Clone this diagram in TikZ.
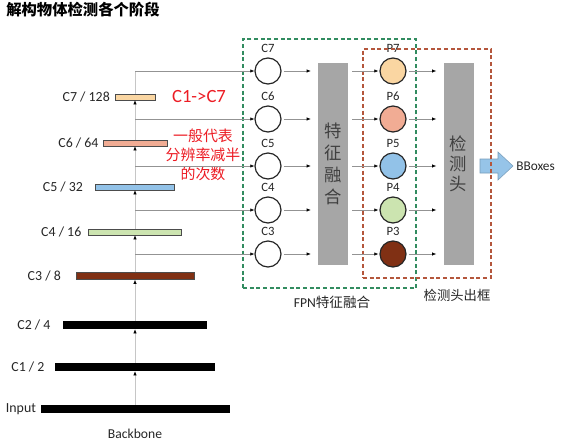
\documentclass[tikz,border=0pt]{standalone}
\usepackage{fontspec}
\setmainfont{Carlito}
\newfontfamily\cjk{Noto Sans CJK SC}
\usetikzlibrary{positioning,fit,calc,arrows.meta}
\definecolor{barC7}{RGB}{250,214,162}
\definecolor{barC6}{RGB}{241,172,148}
\definecolor{barC5}{RGB}{146,194,232}
\definecolor{barC4}{RGB}{204,228,176}
\definecolor{barC3}{RGB}{128,48,20}
\definecolor{stagegray}{RGB}{166,166,166}
\definecolor{fpngreen}{RGB}{50,140,96}
\definecolor{headred}{RGB}{180,86,60}
\definecolor{noteRed}{RGB}{236,28,36}
\definecolor{outblue}{RGB}{150,196,232}
\tikzset{
	bar/.style={draw=black!70, line width=0.4pt, minimum height=4.5pt, inner sep=0pt},
	blackbar/.style={fill=black, minimum height=6pt, inner sep=0pt},
	barlabel/.style={font=\fontsize{10.4}{12}\selectfont, text=black!85, inner sep=0pt},
	feat/.style={circle, draw=black!85, line width=0.9pt, minimum size=19.5pt, inner sep=0pt},
	lab/.style={font=\fontsize{9.5}{11}\selectfont, text=black!85, inner sep=1pt},
	flow/.style={draw=gray!85, line width=0.4pt, -{Latex[black,length=3pt,width=2.4pt]}},
	spine/.style={draw=gray!45, line width=0.6pt},
	stage/.style={fill=stagegray, minimum width=22.5pt, minimum height=151.5pt, inner sep=0pt, align=center, text=black!75},
	dashbox/.style={line width=1.1pt, dash pattern=on 3pt off 2pt, inner sep=0pt},
	note/.style={text=noteRed, inner sep=0pt},
	bigarrow/.style={draw=outblue!80!black, line width=0.4pt, fill=outblue}
}
\begin{document}
\begin{tikzpicture}[x=0.75pt, y=-0.75pt]
		\useasboundingbox (0,0) rectangle (573,443);
		\node[anchor=west, inner sep=0pt, font=\cjk\bfseries\fontsize{11.5}{13}\selectfont] (title) at (6,10) {解构物体检测各个阶段};
		% backbone
		\node[blackbar, minimum width=141.75pt] (bin) at (135,409) {};
		\node[blackbar, minimum width=120pt] (b1) at (135,367) {};
		\node[blackbar, minimum width=108pt] (b2) at (135,325) {};
		\node[bar, fill=barC3, minimum height=5.25pt, minimum width=88.5pt] (b3) at (135,276) {};
		\node[bar, fill=barC4, minimum width=69.75pt] (b4) at (135,232) {};
		\node[bar, fill=barC5, minimum width=59.25pt] (b5) at (135,187) {};
		\node[bar, fill=barC6, minimum width=48pt] (b6) at (135,143) {};
		\node[bar, fill=barC7, minimum width=30pt] (b7) at (135,97) {};
		\node[barlabel, left=3pt of bin] (lin) {Input};
		\node[barlabel, left=7.5pt of b1] (l1) {C1 / 2};
		\node[barlabel, left=9pt of b2] (l2) {C2 / 4};
		\node[barlabel, left=11pt of b3] (l3) {C3 / 8};
		\node[barlabel, left=5pt of b4] (l4) {C4 / 16};
		\node[barlabel, left=9pt of b5] (l5) {C5 / 32};
		\node[barlabel, left=3pt of b6] (l6) {C6 / 64};
		\node[barlabel, left=3.5pt of b7] (l7) {C7 / 128};
		\node[font=\fontsize{10.2}{12}\selectfont, text=black!85] (backbone) at (135,434) {Backbone};
		% FPN inputs
		\node[feat] (c7) at (268,71) {};
		\node[feat] (c6) at (268,119) {};
		\node[feat] (c5) at (268,166) {};
		\node[feat] (c4) at (268,210) {};
		\node[feat] (c3) at (268,254) {};
		\node[lab, above=2.75pt of c7] (lc7) {C7};
		\node[lab, above=2.75pt of c6] (lc6) {C6};
		\node[lab, above=2.75pt of c5] (lc5) {C5};
		\node[lab, above=2.75pt of c4] (lc4) {C4};
		\node[lab, above=2.75pt of c3] (lc3) {C3};
		\node[stage, font=\cjk\fontsize{13}{16.5}\selectfont] (fuse) at (333,164) {特\\征\\融\\合};
		% pyramid outputs
		\node[feat, fill=barC7] (p7) at (393,71) {};
		\node[feat, fill=barC6] (p6) at (393,119) {};
		\node[feat, fill=barC5] (p5) at (393,166) {};
		\node[feat, fill=barC4] (p4) at (393,210) {};
		\node[feat, fill=barC3] (p3) at (393,254) {};
		\node[lab, above=2.75pt of p7] (lp7) {P7};
		\node[lab, above=2.75pt of p6] (lp6) {P6};
		\node[lab, above=2.75pt of p5] (lp5) {P5};
		\node[lab, above=2.75pt of p4] (lp4) {P4};
		\node[lab, above=2.75pt of p3] (lp3) {P3};
		\node[stage, font=\cjk\fontsize{13}{15}\selectfont] (head) at (458.5,164) {检\\测\\头};
		\node[anchor=west, inner sep=0pt, font=\fontsize{10}{12}\selectfont, text=black!85] (bboxes) at (516,166) {BBoxes};
		\coordinate (outbase) at (480,166);
		\draw[bigarrow] ($(outbase)+(0,-7)$) -- ++(18,0) -- ++(0,-7) -- ($(bboxes.west)+(-3,0)$)
			-- ($(outbase)+(18,14)$) -- ++(0,-7) -- ($(outbase)+(0,7)$) -- cycle;
		% frames
		\node[dashbox, draw=fpngreen, fit={(243,39) (416,288)}] (fpn) {};
		\node[dashbox, draw=headred, fit={(363,49) (491,278)}] (detect) {};
		\node[font=\fontsize{10.2}{12}\selectfont, text=black!85] (lfpn) at (332,302) {FPN{\cjk 特征融合}};
		\node[font=\cjk\fontsize{10}{12}\selectfont, text=black!85] (ldetect) at (457,295) {检测头出框};
		% notes
		\node[note, font=\fontsize{14}{16}\selectfont] (order) at (199,97) {C1->C7};
		\node[note, align=center, font=\cjk\fontsize{11.2}{14.3}\selectfont] (meaning) at (203,155) {一般代表\\分辨率减半\\的次数};
		% connectors
		\draw[spine] (b7.north) -- (b7.center |- c7);
		\draw[flow, draw=gray!45] (bin.north) -- (b1.south);
		\draw[flow, draw=gray!45] (b1.north) -- (b2.south);
		\draw[flow, draw=gray!45] (b2.north) -- (b3.south);
		\draw[flow, draw=gray!45] (b3.north) -- (b4.south);
		\draw[flow, draw=gray!45] (b4.north) -- (b5.south);
		\draw[flow, draw=gray!45] (b5.north) -- (b6.south);
		\draw[flow, draw=gray!45] (b6.north) -- (b7.south);
		\draw[flow] (b7.center |- c7) -- (c7.west);
		\draw[flow] (b7.center |- c6) -- (c6.west);
		\draw[flow] (b7.center |- c5) -- (c5.west);
		\draw[flow] (b7.center |- c4) -- (c4.west);
		\draw[flow] (b7.center |- c3) -- (c3.west);
		\draw[flow, shorten <=1.5pt, shorten >=5.25pt] (c7.east) -- (fuse.west |- c7);
		\draw[flow, shorten <=1.5pt, shorten >=5.25pt] (c6.east) -- (fuse.west |- c6);
		\draw[flow, shorten <=1.5pt, shorten >=5.25pt] (c5.east) -- (fuse.west |- c5);
		\draw[flow, shorten <=1.5pt, shorten >=5.25pt] (c4.east) -- (fuse.west |- c4);
		\draw[flow, shorten <=1.5pt, shorten >=5.25pt] (c3.east) -- (fuse.west |- c3);
		\draw[flow, shorten <=3pt, shorten >=0.75pt] (fuse.east |- p7) -- (p7.west);
		\draw[flow, shorten <=3pt, shorten >=0.75pt] (fuse.east |- p6) -- (p6.west);
		\draw[flow, shorten <=3pt, shorten >=0.75pt] (fuse.east |- p5) -- (p5.west);
		\draw[flow, shorten <=3pt, shorten >=0.75pt] (fuse.east |- p4) -- (p4.west);
		\draw[flow, shorten <=3pt, shorten >=0.75pt] (fuse.east |- p3) -- (p3.west);
		\draw[flow, shorten <=1.5pt, shorten >=5.25pt] (p7.east) -- (head.west |- p7);
		\draw[flow, shorten <=1.5pt, shorten >=5.25pt] (p6.east) -- (head.west |- p6);
		\draw[flow, shorten <=1.5pt, shorten >=5.25pt] (p5.east) -- (head.west |- p5);
		\draw[flow, shorten <=1.5pt, shorten >=5.25pt] (p4.east) -- (head.west |- p4);
		\draw[flow, shorten <=1.5pt, shorten >=5.25pt] (p3.east) -- (head.west |- p3);
	\end{tikzpicture}
\end{document}
